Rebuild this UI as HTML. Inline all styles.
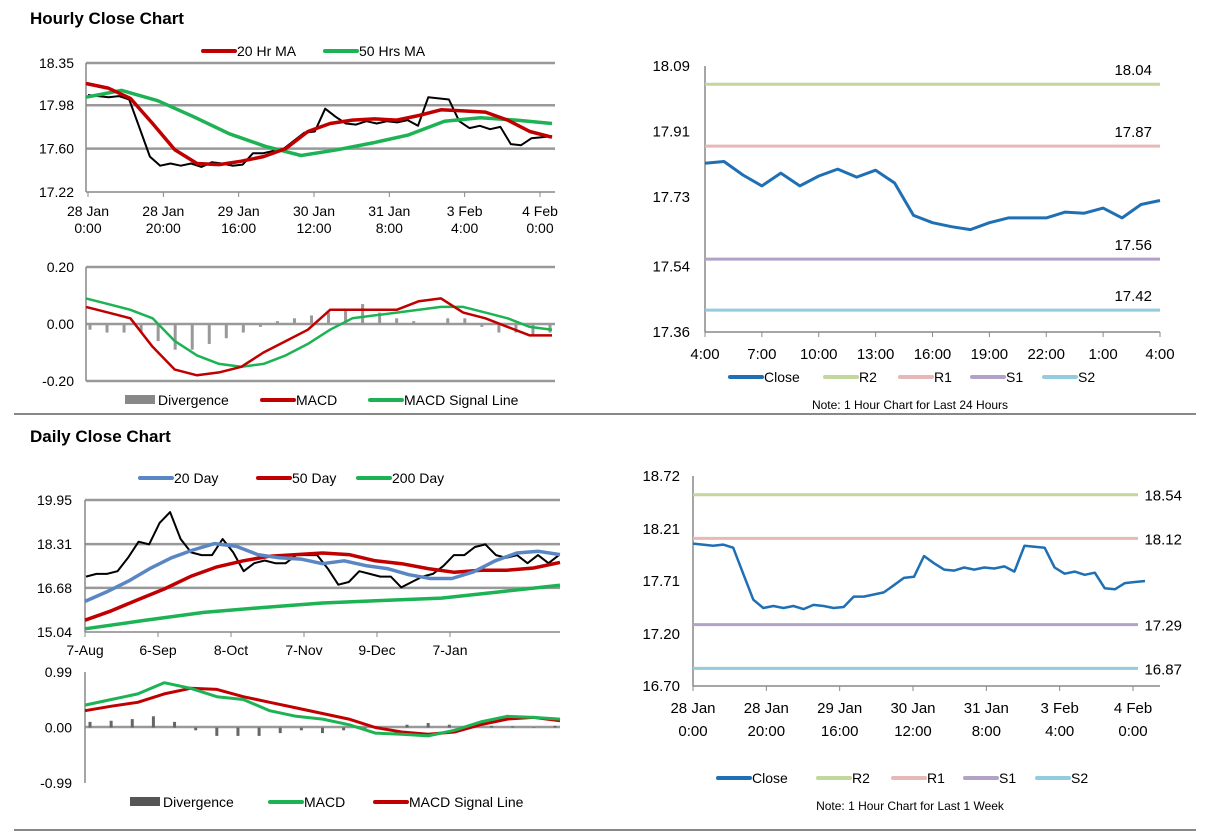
<!DOCTYPE html>
<html><head><meta charset="utf-8"><style>
body{margin:0;background:#fff;font-family:"Liberation Sans",Arial,sans-serif}
svg{display:block}
</style></head><body>
<svg id="s" width="1212" height="834" xmlns="http://www.w3.org/2000/svg" font-family="Liberation Sans, Arial, sans-serif">
<text x="30" y="24" font-size="17" font-weight="bold">Hourly Close Chart</text>
<text x="30" y="442" font-size="17" font-weight="bold">Daily Close Chart</text>
<line x1="14" y1="414" x2="1196" y2="414" stroke="#888" stroke-width="2"/>
<line x1="14" y1="830" x2="1196" y2="830" stroke="#888" stroke-width="2"/>
<text x="910" y="409" font-size="12" text-anchor="middle">Note: 1 Hour Chart for Last 24 Hours</text>
<text x="910" y="810" font-size="12" text-anchor="middle">Note: 1 Hour Chart for Last 1 Week</text>
</svg>
<script>
// ---- data ----
const weekClose=[18.07,18.06,18.05,18.06,18.03,17.78,17.53,17.45,17.47,17.45,17.47,17.44,17.48,17.47,17.45,17.46,17.56,17.56,17.58,17.60,17.67,17.74,17.75,17.95,17.88,17.82,17.81,17.84,17.82,17.84,17.83,17.85,17.80,18.05,18.04,18.03,17.84,17.78,17.80,17.77,17.79,17.64,17.63,17.69,17.70,17.71];
const ma20h=[18.17,18.13,18.04,17.82,17.59,17.47,17.46,17.49,17.53,17.60,17.75,17.82,17.85,17.86,17.85,17.89,17.94,17.93,17.92,17.85,17.75,17.70];
const ma50h=[18.05,18.11,18.02,17.88,17.73,17.62,17.54,17.59,17.65,17.72,17.84,17.87,17.85,17.82];
const hourTicks=["28 Jan|0:00","28 Jan|20:00","29 Jan|16:00","30 Jan|12:00","31 Jan|8:00","3 Feb|4:00","4 Feb|0:00"];
const macdH=[0.06,0.04,0.02,-0.08,-0.16,-0.18,-0.17,-0.15,-0.10,-0.06,-0.02,0.05,0.05,0.05,0.05,0.08,0.09,0.04,0.02,-0.01,-0.04,-0.04];
const sigH=[0.09,0.07,0.05,0.02,-0.06,-0.11,-0.14,-0.15,-0.14,-0.11,-0.07,-0.02,0.02,0.03,0.04,0.05,0.06,0.06,0.04,0.02,-0.01,-0.02];
const divH=[-0.02,-0.03,-0.03,-0.03,-0.06,-0.09,-0.09,-0.07,-0.05,-0.03,-0.01,0.01,0.02,0.03,0.04,0.05,0.07,0.04,0.02,0.01,0.00,0.02,0.02,-0.01,-0.03,-0.03,-0.04,-0.03];
const dayClose=[17.1,17.2,17.2,17.3,17.8,18.4,18.3,19.1,19.5,18.5,18.0,17.9,17.9,18.5,18.0,17.3,17.6,17.7,17.6,17.6,17.9,17.9,17.9,17.4,16.8,16.9,17.3,17.2,17.1,17.1,16.7,16.9,17.1,17.2,17.5,17.9,17.9,18.2,18.3,17.9,17.8,17.9,17.6,17.9,17.6,17.9];
const ma20d=[16.18,16.53,16.93,17.40,17.80,18.09,18.33,18.23,17.92,17.80,17.75,17.58,17.69,17.51,17.40,17.17,17.03,17.03,17.28,17.69,17.98,18.04,17.92];
const ma50d=[15.48,15.83,16.24,16.64,17.11,17.46,17.69,17.86,17.92,17.98,17.92,17.69,17.58,17.40,17.26,17.34,17.34,17.42,17.63];
const ma200d=[15.16,15.47,15.77,15.95,16.12,16.21,16.30,16.54,16.78];
const dayTicks=["7-Aug","6-Sep","8-Oct","7-Nov","9-Dec","7-Jan"];
const macdD=[0.40,0.50,0.60,0.80,0.70,0.55,0.50,0.30,0.20,0.15,0.05,-0.10,-0.12,-0.15,-0.05,0.10,0.20,0.18,0.15];
const sigD=[0.30,0.38,0.45,0.60,0.70,0.68,0.55,0.45,0.35,0.25,0.15,0.00,-0.08,-0.12,-0.08,0.05,0.15,0.18,0.12];
const divD=[0.10,0.12,0.15,0.20,0.10,-0.05,-0.15,-0.15,-0.15,-0.10,-0.05,-0.10,-0.05,-0.02,0.00,0.05,0.08,0.05,0.05,0.03,0.02,0.00,0.03];
const dayClose24=[17.823,17.828,17.791,17.761,17.796,17.761,17.788,17.807,17.785,17.804,17.769,17.680,17.660,17.649,17.641,17.660,17.673,17.673,17.673,17.689,17.686,17.700,17.673,17.710,17.721];
const hr24Ticks=["4:00","7:00","10:00","13:00","16:00","19:00","22:00","1:00","4:00"];
const levels24=[18.04,17.87,17.56,17.42];
const levelsWk=[18.54,18.12,17.29,16.87];
const levelNames=["R2","R1","S1","S2"];
const levelColors=["#c3d69b","#e6b9b8","#b3a2c7","#93cddd"];

// ---- helpers ----
const S=document.getElementById('s');const NS='http://www.w3.org/2000/svg';
function el(t,a,txt){const e=document.createElementNS(NS,t);for(const k in a)e.setAttribute(k,a[k]);if(txt!==undefined)e.textContent=txt;S.appendChild(e);return e;}
function scale(d0,d1,r0,r1){return v=>r0+(v-d0)/(d1-d0)*(r1-r0);}
function line(vals,x0,x1,y,color,w,name){const xs=scale(0,vals.length-1,x0,x1);const p=vals.map((v,i)=>(i?'L':'M')+xs(i).toFixed(1)+','+y(v).toFixed(1)).join('');const e=el('path',{d:p,fill:'none',stroke:color,'stroke-width':w,'stroke-linejoin':'round'});

return e;}
function bars(vals,x0,x1,y,color,name){const xs=scale(0,vals.length-1,x0,x1);const bw=3;vals.forEach((v,i)=>{const a=y(0),b=y(v);const e=el('rect',{x:xs(i)-bw/2,y:Math.min(a,b),width:bw,height:Math.abs(a-b)||0.5,fill:color});

});}
function txt(x,y,s,anchor,name,size){const e=el('text',{x:x,y:y,'font-size':size||14,'text-anchor':anchor||'middle',fill:'#000'},s);

return e;}
function hl(x0,x1,yy,c,w,name){const e=el('line',{x1:x0,x2:x1,y1:yy,y2:yy,stroke:c,'stroke-width':w});

}
function vl(x,y0,y1,c,w,name){const e=el('line',{x1:x,x2:x,y1:y0,y2:y1,stroke:c,'stroke-width':w});

}
function legend(items,y){items.forEach(it=>{if(it.bar){const e=el('rect',{x:it.x,y:y-5,width:30,height:9,fill:it.c});}else{const e=el('line',{x1:it.x,x2:it.x+32,y1:y,y2:y,stroke:it.c,'stroke-width':4,'stroke-linecap':'round'});}txt(it.x+(it.bar?33:34),y+5,it.t,'start','legend-entry',14);});}

// ---- Hourly price (top-left) ----
(function(){const x0=86,x1=555,y=scale(17.22,18.35,192,63);
[18.35,17.98,17.60].forEach(v=>hl(x0,x1,y(v),'#999',2.5,'gridline'));
hl(x0,x1,192,'#888',1.5,'x-axis');vl(x0,63,192,'#888',1.5,'y-axis');
[18.35,17.98,17.60,17.22].forEach(v=>txt(74,y(v)+5,v.toFixed(2),'end','y-tick-label'));
const xt=scale(0,hourTicks.length-1,88,540);
hourTicks.forEach((t,i)=>{const [a,b]=t.split('|');vl(xt(i),192,197,'#888',1,'x-tick');txt(xt(i),216,a,'middle','x-tick-label');txt(xt(i),233,b,'middle','x-tick-label');});
line(weekClose,88,552,y,'#000',2,'close-line');
line(ma50h,86,552,y,'#1db354',3.5,'ma50-line');
line(ma20h,86,552,y,'#c00000',3.5,'ma20-line');
legend([{x:203,c:'#c00000',t:'20 Hr MA'},{x:325,c:'#1db354',t:'50 Hrs MA'}],51);
})();
// ---- Hourly MACD ----
(function(){const x0=86,x1=555,y=scale(-0.2,0.2,381,267);
hl(x0,x1,267,'#999',2.5,'gridline');hl(x0,x1,324,'#999',2.5,'zero-line');hl(x0,x1,381,'#999',2.5,'gridline');vl(x0,267,381,'#888',1.5,'y-axis');
[0.2,0,-0.2].forEach(v=>txt(74,y(v)+5,v.toFixed(2),'end','y-tick-label'));
bars(divH,90,550,y,'#999','divergence-bar');
line(sigH,86,552,y,'#1db354',2.5,'signal-line');
line(macdH,86,552,y,'#c00000',2.5,'macd-line');
legend([{x:125,c:'#888',t:'Divergence',bar:1},{x:262,c:'#c00000',t:'MACD'},{x:370,c:'#1db354',t:'MACD Signal Line'}],400);
})();
// ---- 24h chart (top-right) ----
(function(){const x0=705,x1=1160,y=scale(17.36,18.09,332,66);
vl(x0,66,332,'#888',1.5,'y-axis');hl(x0,x1,332,'#888',1.5,'x-axis');
[18.09,17.91,17.73,17.54,17.36].forEach(v=>txt(690,y(v)+5,v.toFixed(2),'end','y-tick-label',15));
const xt=scale(0,hr24Ticks.length-1,x0,x1);
hr24Ticks.forEach((t,i)=>{vl(xt(i),332,337,'#888',1,'x-tick');txt(xt(i),359,t,'middle','x-tick-label',15);});
levels24.forEach((v,i)=>{hl(x0,x1,y(v),levelColors[i],3,'level-'+levelNames[i]);txt(1152,y(v)-9,v.toFixed(2),'end','level-label',15);});
line(dayClose24,x0,x1,y,'#1f6fb5',3,'close-24h-line');
legend([{x:730,c:'#1f6fb5',t:'Close'},{x:825,c:'#c3d69b',t:'R2'},{x:900,c:'#e6b9b8',t:'R1'},{x:972,c:'#b3a2c7',t:'S1'},{x:1044,c:'#93cddd',t:'S2'}],377);
})();
// ---- Daily price (bottom-left) ----
(function(){const x0=85,x1=560,y=scale(15.04,19.95,632,500);
[19.95,18.31,16.68].forEach(v=>hl(x0,x1,y(v),'#999',2.5,'gridline'));
hl(x0,x1,632,'#888',1.5,'x-axis');vl(x0,500,632,'#888',1.5,'y-axis');
[19.95,18.31,16.68,15.04].forEach(v=>txt(72,y(v)+5,v.toFixed(2),'end','y-tick-label'));
const xt=scale(0,dayTicks.length-1,85,450);
dayTicks.forEach((t,i)=>{vl(xt(i),632,637,'#888',1,'x-tick');txt(xt(i),655,t,'middle','x-tick-label');});
line(dayClose,86,559,y,'#000',2,'daily-close-line');
line(ma200d,85,560,y,'#1db354',3.5,'ma200-line');
line(ma50d,85,560,y,'#c00000',3.5,'ma50d-line');
line(ma20d,85,560,y,'#5a86c3',3.5,'ma20d-line');
legend([{x:140,c:'#5a86c3',t:'20 Day'},{x:258,c:'#c00000',t:'50 Day'},{x:358,c:'#1db354',t:'200 Day'}],478);
})();
// ---- Daily MACD ----
(function(){const x0=85,x1=560,y=scale(-0.99,0.99,783,672);
hl(x0,x1,727,'#999',2.5,'zero-line');vl(x0,672,783,'#888',1.5,'y-axis');
[0.99,0,-0.99].forEach(v=>txt(72,y(v)+5,v.toFixed(2),'end','y-tick-label'));
bars(divD,90,555,y,'#666','divergence-bar');
line(sigD,85,560,y,'#c00000',3,'signal-line-daily');
line(macdD,85,560,y,'#1db354',3,'macd-line-daily');
legend([{x:130,c:'#555',t:'Divergence',bar:1},{x:270,c:'#1db354',t:'MACD'},{x:375,c:'#c00000',t:'MACD Signal Line'}],802);
})();
// ---- Week chart (bottom-right) ----
(function(){const x0=693,x1=1160,y=scale(16.70,18.72,686,476);
vl(x0,476,686,'#888',1.5,'y-axis');hl(x0,x1,686,'#888',1.5,'x-axis');
[18.72,18.21,17.71,17.20,16.70].forEach(v=>txt(680,y(v)+5,v.toFixed(2),'end','y-tick-label',15));
const xt=scale(0,hourTicks.length-1,693,1133);
hourTicks.forEach((t,i)=>{const [a,b]=t.split('|');vl(xt(i),686,691,'#888',1,'x-tick');txt(xt(i),713,a,'middle','x-tick-label',15);txt(xt(i),736,b,'middle','x-tick-label',15);});
levelsWk.forEach((v,i)=>{hl(x0,1138,y(v),levelColors[i],3,'level-'+levelNames[i]);txt(1182,y(v)+6,v.toFixed(2),'end','level-label',15);});
line(weekClose,693,1145,y,'#1f6fb5',2.5,'close-week-line');
legend([{x:718,c:'#1f6fb5',t:'Close'},{x:818,c:'#c3d69b',t:'R2'},{x:893,c:'#e6b9b8',t:'R1'},{x:965,c:'#b3a2c7',t:'S1'},{x:1037,c:'#93cddd',t:'S2'}],778);
})();
</script>
</body></html>
